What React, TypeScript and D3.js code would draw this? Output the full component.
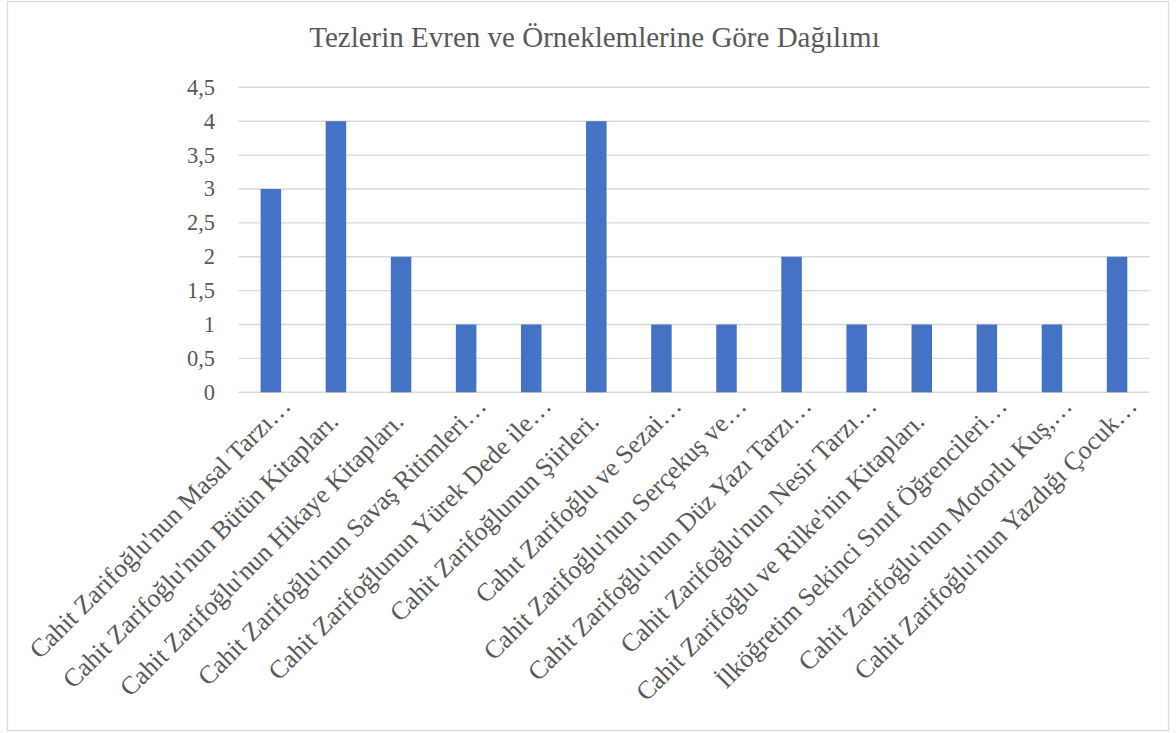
import React from "react";
import * as d3 from "d3";

const categories: string[] = [
  "Cahit Zarifoğlu'nun Masal Tarzı…",
  "Cahit Zarifoğlu'nun Bütün Kitapları.",
  "Cahit Zarifoğlu'nun Hikaye Kitapları.",
  "Cahit Zarifoğlu'nun Savaş Ritimleri…",
  "Cahit Zarifoğlunun Yürek Dede ile…",
  "Cahit Zarifoğlunun Şiirleri.",
  "Cahıt Zarifoğlu ve Sezai…",
  "Cahit Zarifoğlu'nun Serçekuş ve…",
  "Cahit Zarifoğlu'nun Düz Yazı Tarzı…",
  "Cahit Zarifoğlu'nun Nesir Tarzı…",
  "Cahit Zarifoğlu ve Rilke'nin Kitapları.",
  "İlköğretim Sekinci Sınıf Öğrencileri…",
  "Cahit Zarifoğlu'nun Motorlu Kuş,…",
  "Cahit Zarifoğlu'nun Yazdığı Çocuk…",
];
const values: number[] = [3, 4, 2, 1, 1, 4, 1, 1, 2, 1, 1, 1, 1, 2];
const yTicks: number[] = [0, 0.5, 1, 1.5, 2, 2.5, 3, 3.5, 4, 4.5];
const title = "Tezlerin Evren ve Örneklemlerine Göre Dağılımı";

const W = 1176;
const H = 733;
const FONT = "'Liberation Serif', 'Times New Roman', serif";
const TEXT = "#595959";
const GRID = "#D9D9D9";
const BAR = "#4472C4";

export default function App() {
  const x = d3
    .scaleBand<number>()
    .domain(categories.map((_, i) => i))
    .range([238.3, 1149.6])
    .paddingInner(0.685)
    .paddingOuter(0.3425);
  const y = d3.scaleLinear().domain([0, 4.5]).range([392.3, 87.3]);
  const fmt = (v: number) => String(v).replace(".", ",");
  const [x0, x1] = x.range();
  const tickFs = 22.5;
  const labelFs = 25.8;

  return (
    <svg
      width={W}
      height={H}
      style={{ position: "absolute", left: 0, top: 0, background: "#fff" }}
      fontFamily={FONT}
    >
      <rect x={7.5} y={1.5} width={1161} height={729} fill="#fff" stroke={GRID} strokeWidth={1.3} />
      <text x={594.5} y={47.3} textAnchor="middle" fontSize={29} fill={TEXT}>
        {title}
      </text>
      {yTicks.map((t) => (
        <g key={t}>
          <line x1={x0} x2={x1} y1={y(t)} y2={y(t)} stroke={GRID} strokeWidth={1.4} />
          <text x={215} y={y(t) + tickFs * 0.33} textAnchor="end" fontSize={tickFs} fill={TEXT}>
            {fmt(t)}
          </text>
        </g>
      ))}
      {values.map((v, i) => (
        <rect
          key={i}
          x={x(i)}
          y={y(v)}
          width={x.bandwidth()}
          height={y(0) - y(v)}
          fill={BAR}
        />
      ))}
      {categories.map((c, i) => {
        const cx = (x(i) as number) + x.bandwidth() / 2;
        const ell = c.endsWith("…");
        const px = cx + (ell ? 21.5 : 4);
        const py = ell ? 407.5 : 423;
        return (
          <text
            key={i}
            transform={`translate(${px},${py}) rotate(-45)`}
            textAnchor="end"
            fontSize={labelFs}
            fill={TEXT}
          >
            {c}
          </text>
        );
      })}
    </svg>
  );
}
